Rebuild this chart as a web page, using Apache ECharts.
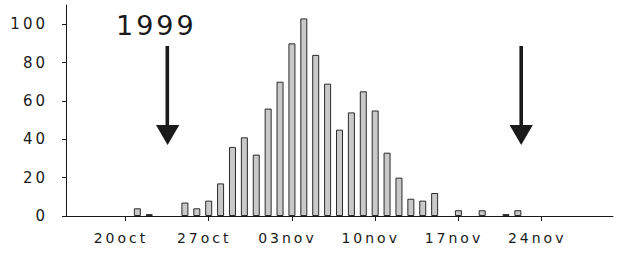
<!DOCTYPE html>
<html>
<head>
<meta charset="utf-8">
<script src="https://cdn.jsdelivr.net/npm/echarts@6/dist/echarts.min.js"></script>
<style>
  html, body { margin: 0; padding: 0; background: #fff; }
  #chart { width: 618px; height: 253px; letter-spacing: 3px; }
</style>
</head>
<body>
<div id="chart"></div>
<script>
// daily counts, 21oct .. 22nov
var dates = ['21oct', '22oct', '23oct', '24oct', '25oct', '26oct', '27oct', '28oct', '29oct', '30oct', '31oct',
  '01nov', '02nov', '03nov', '04nov', '05nov', '06nov', '07nov', '08nov', '09nov', '10nov',
  '11nov', '12nov', '13nov', '14nov', '15nov', '16nov', '17nov', '18nov', '19nov', '20nov', '21nov', '22nov'];
var counts = [4, 1, 0, 0, 7, 4, 8, 17, 36, 41, 32,
  56, 70, 90, 103, 84, 69, 45, 54, 65, 55,
  33, 20, 9, 8, 12, 0, 3, 0, 3, 0, 1, 3];
var tickLabels = ['20oct', '27oct', '03nov', '10nov', '17nov', '24nov'];
var yTicks = [0, 20, 40, 60, 80, 100];
var yearLabel = '1999';

// "21oct" -> 21, "03nov" -> 34 (days counted from 0oct)
function dayNum(s) {
  var d = parseInt(s.slice(0, 2), 10);
  return s.slice(2) === 'nov' ? d + 31 : d;
}

// days with no catch get no bar at all
var barData = [];
dates.forEach(function (d, i) {
  if (counts[i] > 0) barData.push([dayNum(d), counts[i]]);
});
var tickValues = tickLabels.map(dayNum);
var labelByDay = {};
tickLabels.forEach(function (t) { labelByDay[dayNum(t)] = t; });

var chart = echarts.init(document.getElementById('chart'), null, { renderer: 'svg' });
var font = '"DejaVu Sans", Verdana, sans-serif';
var ink = '#1a1a1a';

chart.setOption({
  animation: false,
  grid: { left: 66, right: 5, top: 5, bottom: 37 },
  xAxis: {
    type: 'value',
    min: 15,
    max: 61,
    splitLine: { show: false },
    axisLine: { show: true, lineStyle: { color: ink, width: 1 } },
    axisTick: { show: true, length: 5, customValues: tickValues, lineStyle: { color: ink } },
    axisLabel: {
      customValues: tickValues,
      margin: 15,
      padding: [0, 9, 0, 0],
      color: ink,
      fontSize: 14,
      fontFamily: font,
      formatter: function (v) { return labelByDay[v] || ''; }
    }
  },
  yAxis: {
    type: 'value',
    min: 0,
    max: 110,
    splitLine: { show: false },
    axisLine: { show: true, lineStyle: { color: ink, width: 1 } },
    axisTick: { show: true, length: 4, customValues: yTicks, lineStyle: { color: ink } },
    axisLabel: {
      customValues: yTicks,
      margin: 18,
      color: ink,
      fontSize: 15,
      fontFamily: font
    }
  },
  series: [{
    type: 'bar',
    data: barData,
    barWidth: 7,
    itemStyle: { color: '#c9c9c9', borderColor: '#2a2a2a', borderWidth: 1 }
  }],
  graphic: [
    {
      type: 'text',
      left: 116,
      top: 12,
      style: { text: yearLabel, fontSize: 27, fontFamily: font, fill: ink }
    },
    // left arrow
    { type: 'rect', shape: { x: 165.5, y: 46, width: 3.6, height: 82 }, style: { fill: ink } },
    { type: 'polygon', shape: { points: [[156, 125], [179.3, 125], [167.6, 145]] }, style: { fill: ink } },
    // right arrow
    { type: 'rect', shape: { x: 519.4, y: 46, width: 3.6, height: 82 }, style: { fill: ink } },
    { type: 'polygon', shape: { points: [[509.5, 125], [532.8, 125], [521.2, 145]] }, style: { fill: ink } }
  ]
});
</script>
</body>
</html>
